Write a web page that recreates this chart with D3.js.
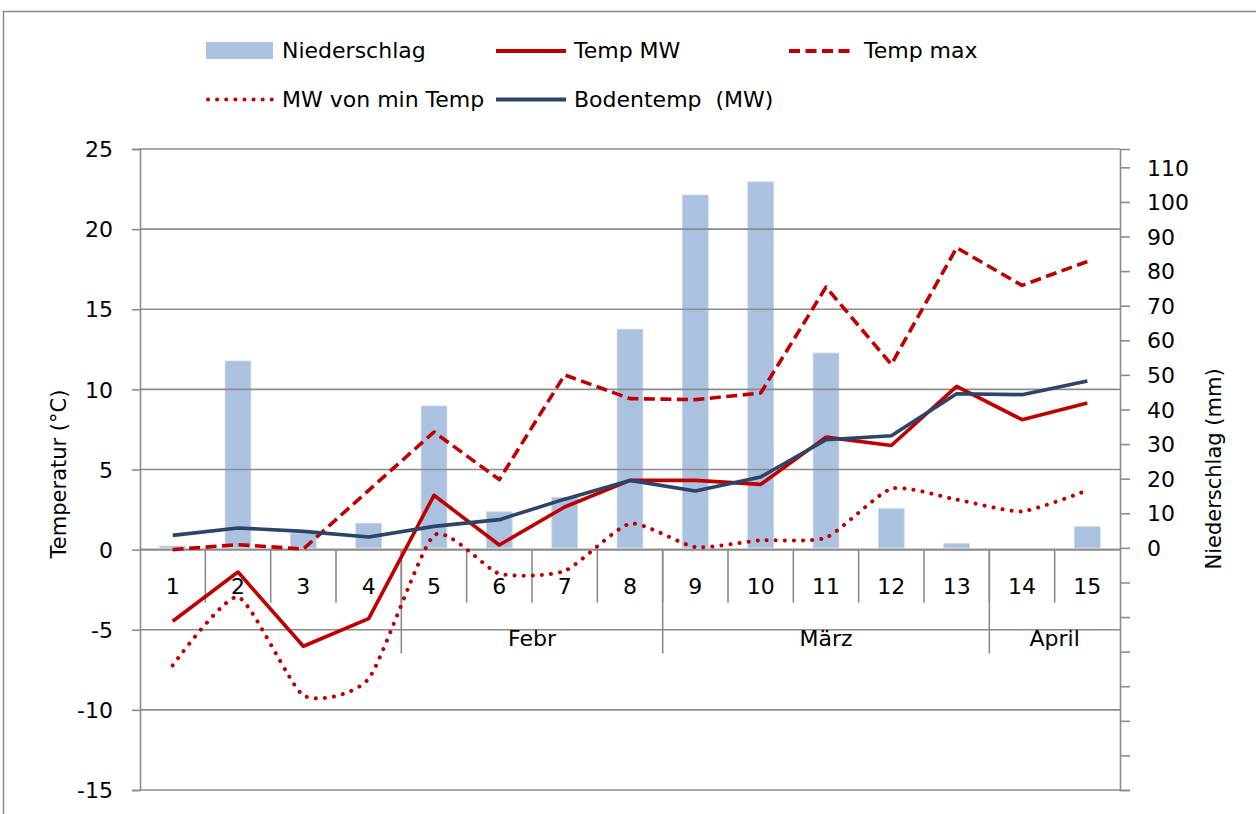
<!DOCTYPE html>
<html>
<head>
<meta charset="utf-8">
<script src="https://cdn.jsdelivr.net/npm/d3@7"></script>
<style>
  html, body { margin: 0; padding: 0; background: #fff; }
  svg { display: block; }
  text { font-family: "DejaVu Sans", sans-serif; fill: #000; }
</style>
</head>
<body>
<svg id="chart" width="1256" height="814"></svg>
<script>
// ---------- data ----------
const categories = ["1","2","3","4","5","6","7","8","9","10","11","12","13","14","15"];
const niederschlag = [0.5, 54, 4.2, 7.1, 41, 10.4, 14.6, 63.2, 102, 105.8, 56.3, 11.3, 1.2, 0, 6.1];
const tempMW      = [-4.47, -1.40, -6.03, -4.30, 3.39, 0.29, 2.66, 4.32, 4.32, 4.07, 7.02, 6.50, 10.19, 8.11, 9.15];
const tempMax     = [0.00, 0.31, 0.04, 3.70, 7.34, 4.37, 10.90, 9.42, 9.36, 9.77, 16.38, 11.56, 18.84, 16.49, 17.98];
const tempMinMW   = [-7.22, -2.96, -9.09, -8.05, 0.89, -1.50, -1.33, 1.62, 0.16, 0.58, 0.75, 3.80, 3.12, 2.39, 3.70];
const bodentemp   = [0.89, 1.35, 1.14, 0.79, 1.45, 1.87, 3.15, 4.32, 3.66, 4.53, 6.86, 7.11, 9.73, 9.67, 10.52];
const monthLabels = ["", "Febr", "März", "April"];
const monthSpans  = [4, 4, 5, 2];
const leftTicks   = [-15, -10, -5, 0, 5, 10, 15, 20, 25];
const rightTicks  = [-70, -60, -50, -40, -30, -20, -10, 0, 10, 20, 30, 40, 50, 60, 70, 80, 90, 100, 110];
const seriesNames = ["Niederschlag", "Temp MW", "Temp max", "MW von min Temp", "Bodentemp  (MW)"];
const leftTitle = "Temperatur (°C)";
const rightTitle = "Niederschlag (mm)";

// ---------- layout ----------
const L = 140, R = 1120, T = 149, B = 790;
const RED = "#C00000", NAVY = "#2B4468", BAR = "#AAC2E0", GRID = "#8C8C8C";
const FS = 22;

const svg = d3.select("#chart");

// outer chart border
svg.append("path")
  .attr("d", "M3.5,814 L3.5,11.5 L1256,11.5")
  .attr("fill", "none").attr("stroke", "#8a8a8a").attr("stroke-width", 1.5);

const xBand = d3.scaleBand().domain(categories).range([L, R]).padding(0);
const xPt = d3.scalePoint().domain(categories).range([L, R]).padding(0.5);
const yL = d3.scaleLinear().domain([-15, 25]).range([B, T]);
const yR = d3.scaleLinear().domain([-70, 115.3]).range([B, T]);

// bars
const barW = xBand.bandwidth() * 0.393;
svg.append("g").selectAll("rect").data(niederschlag).join("rect")
  .attr("x", (d, i) => xPt(categories[i]) - barW / 2)
  .attr("width", barW)
  .attr("y", d => yR(d))
  .attr("height", d => Math.max(0, yR(0) - yR(d)))
  .attr("fill", BAR)
  .attr("stroke", "#C3D4EA").attr("stroke-width", 0.8);

// horizontal gridlines (left axis ticks)
svg.append("g").selectAll("line").data(leftTicks).join("line")
  .attr("x1", L).attr("x2", R)
  .attr("y1", d => yL(d)).attr("y2", d => yL(d))
  .attr("stroke", GRID).attr("stroke-width", 1.6);

// left axis
const leftAxis = d3.axisLeft(yL).tickValues(leftTicks).tickSize(8).tickPadding(19).tickFormat(d => String(d));
const gL = svg.append("g").attr("transform", `translate(${L},0)`).call(leftAxis);
gL.select(".domain").attr("stroke", GRID).attr("stroke-width", 1.6);
gL.selectAll(".tick line").attr("stroke", GRID).attr("stroke-width", 1.6);
gL.selectAll(".tick text").attr("font-size", FS).attr("font-family", "DejaVu Sans").attr("fill", "#000").attr("dy", "0.35em");

// right axis
const rightAxis = d3.axisRight(yR).tickValues(rightTicks).tickSize(10).tickPadding(17)
  .tickFormat(d => d >= 0 ? String(d) : "");
const gR = svg.append("g").attr("transform", `translate(${R},0)`).call(rightAxis);
gR.select(".domain").attr("stroke", GRID).attr("stroke-width", 1.6);
gR.selectAll(".tick line").attr("stroke", GRID).attr("stroke-width", 1.6);
gR.selectAll(".tick text").attr("font-size", FS).attr("font-family", "DejaVu Sans").attr("fill", "#000").attr("dy", "0.35em");

// category axis (two levels)
const catG = svg.append("g");
const y0 = yL(0);
const step = xBand.step();
catG.selectAll("line.cat").data(categories.slice(1)).join("line")
  .attr("class", "cat")
  .attr("x1", d => xBand(d)).attr("x2", d => xBand(d))
  .attr("y1", y0).attr("y2", y0 + 53)
  .attr("stroke", GRID).attr("stroke-width", 1.6);
let cum = 0;
const bounds = [];
monthSpans.forEach(s => { bounds.push([cum, cum + s]); cum += s; });
catG.selectAll("line.mon").data(bounds.slice(1)).join("line")
  .attr("class", "mon")
  .attr("x1", d => xBand(categories[d[0]])).attr("x2", d => xBand(categories[d[0]]))
  .attr("y1", y0).attr("y2", y0 + 104)
  .attr("stroke", GRID).attr("stroke-width", 1.6);
catG.selectAll("text.cat").data(categories).join("text")
  .attr("class", "cat")
  .attr("x", d => xPt(d)).attr("y", y0 + 44)
  .attr("text-anchor", "middle").attr("font-size", FS)
  .text(d => d);
catG.selectAll("text.mon").data(monthLabels).join("text")
  .attr("class", "mon")
  .attr("x", (d, i) => (xBand(categories[bounds[i][0]]) + xBand(categories[bounds[i][1] - 1]) + step) / 2)
  .attr("y", y0 + 96)
  .attr("text-anchor", "middle").attr("font-size", FS)
  .text(d => d);
catG.append("line").attr("x1", L).attr("x2", R).attr("y1", y0).attr("y2", y0)
  .attr("stroke", GRID).attr("stroke-width", 1.6);

// lines
const lineStraight = d3.line().x((d, i) => xPt(categories[i])).y(d => yL(d));
const lineSmooth = d3.line().x((d, i) => xPt(categories[i])).y(d => yL(d)).curve(d3.curveCardinal.tension(0.4));

svg.append("path").datum(tempMinMW).attr("d", lineSmooth)
  .attr("fill", "none").attr("stroke", RED).attr("stroke-width", 4)
  .attr("stroke-linecap", "round").attr("stroke-dasharray", "0.1 9");
svg.append("path").datum(tempMax).attr("d", lineStraight)
  .attr("fill", "none").attr("stroke", RED).attr("stroke-width", 3.6)
  .attr("stroke-linejoin", "round").attr("stroke-dasharray", "11 5.5");
svg.append("path").datum(tempMW).attr("d", lineStraight)
  .attr("fill", "none").attr("stroke", RED).attr("stroke-width", 3.6)
  .attr("stroke-linejoin", "round");
svg.append("path").datum(bodentemp).attr("d", lineStraight)
  .attr("fill", "none").attr("stroke", NAVY).attr("stroke-width", 3.6)
  .attr("stroke-linejoin", "round");

// axis titles
svg.append("text").attr("transform", `translate(66,474) rotate(-90)`)
  .attr("text-anchor", "middle").attr("font-size", 21).text(leftTitle);
svg.append("text").attr("transform", `translate(1221,469) rotate(-90)`)
  .attr("text-anchor", "middle").attr("font-size", 21).text(rightTitle);

// legend
const lg = svg.append("g");
lg.append("rect").attr("x", 206).attr("y", 42).attr("width", 67).attr("height", 17).attr("fill", BAR);
lg.append("line").attr("x1", 496).attr("x2", 566).attr("y1", 51).attr("y2", 51)
  .attr("stroke", RED).attr("stroke-width", 4);
lg.append("line").attr("x1", 789).attr("x2", 853).attr("y1", 51).attr("y2", 51)
  .attr("stroke", RED).attr("stroke-width", 4).attr("stroke-dasharray", "11 5.5");
lg.append("line").attr("x1", 208).attr("x2", 273).attr("y1", 99.5).attr("y2", 99.5)
  .attr("stroke", RED).attr("stroke-width", 4).attr("stroke-linecap", "round").attr("stroke-dasharray", "0.1 9");
lg.append("line").attr("x1", 496).attr("x2", 566).attr("y1", 99.5).attr("y2", 99.5)
  .attr("stroke", NAVY).attr("stroke-width", 4);
const legendPos = [[282, 50], [574, 50], [864, 50], [282, 99], [574, 99]];
lg.selectAll("text").data(seriesNames).join("text")
  .attr("x", (d, i) => legendPos[i][0]).attr("y", (d, i) => legendPos[i][1])
  .attr("dy", "0.35em").attr("font-size", FS)
  .style("white-space", "pre").attr("xml:space", "preserve")
  .text(d => d);
</script>
</body>
</html>
